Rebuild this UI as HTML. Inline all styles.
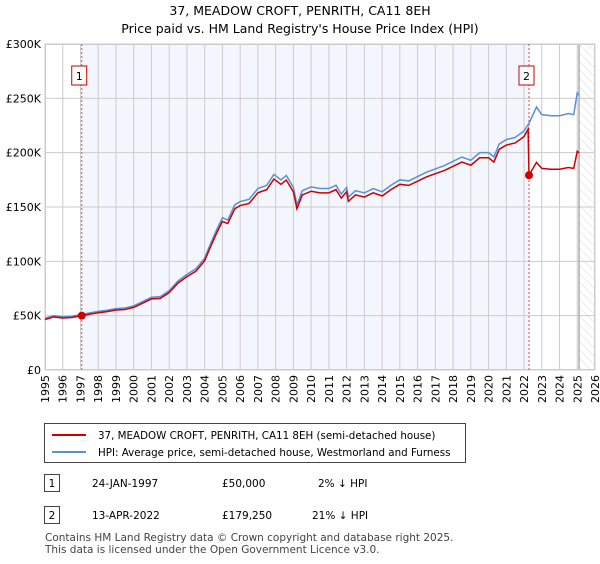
<!DOCTYPE html>
<html><head><meta charset="utf-8"><style>
body{margin:0;background:#fff;font-family:"DejaVu Sans","Liberation Sans",sans-serif;}
</style></head><body>
<svg width="600" height="560" xmlns="http://www.w3.org/2000/svg" style="font-family:'DejaVu Sans','Liberation Sans',sans-serif">
<defs><pattern id="hatch" width="6" height="6" patternUnits="userSpaceOnUse" patternTransform="rotate(-45)"><line x1="0" y1="0" x2="0" y2="6" stroke="#d8d8d8" stroke-width="1"/></pattern></defs>
<text x="300" y="15" text-anchor="middle" font-size="12.5">37, MEADOW CROFT, PENRITH, CA11 8EH</text>
<text x="300" y="33" text-anchor="middle" font-size="12.5">Price paid vs. HM Land Registry's House Price Index (HPI)</text>
<g id="plot"></g>
<g>
<rect x="44.5" y="423.5" width="421" height="39" fill="#fff" stroke="#444"/>
<line x1="52" y1="435" x2="86" y2="435" stroke="#cc0000" stroke-width="2"/>
<text x="98" y="439" font-size="10.3">37, MEADOW CROFT, PENRITH, CA11 8EH (semi-detached house)</text>
<line x1="52" y1="452" x2="86" y2="452" stroke="#5b8fd6" stroke-width="2"/>
<text x="98" y="456" font-size="10.3">HPI: Average price, semi-detached house, Westmorland and Furness</text>
</g>
<g font-size="10.5">
<rect x="44.5" y="474.5" width="15" height="17" fill="#fff" stroke="#444"/><text x="52" y="487" text-anchor="middle">1</text>
<text x="92" y="487">24-JAN-1997</text><text x="222" y="487">£50,000</text><text x="318" y="487">2% ↓ HPI</text>
<rect x="44.5" y="506.5" width="15" height="17" fill="#fff" stroke="#444"/><text x="52" y="519" text-anchor="middle">2</text>
<text x="92" y="519">13-APR-2022</text><text x="222" y="519">£179,250</text><text x="312" y="519">21% ↓ HPI</text>
</g>
<text x="45" y="541" font-size="10.5" fill="#444">Contains HM Land Registry data © Crown copyright and database right 2025.</text>
<text x="45" y="553" font-size="10.5" fill="#444">This data is licensed under the Open Government Licence v3.0.</text>
</svg>
<script>
const hpiYears=[1995,1995.5,1996,1996.5,1997,1997.5,1998,1998.5,1999,1999.5,2000,2000.5,2001,2001.5,2002,2002.5,2003,2003.5,2004,2004.3,2004.7,2005,2005.3,2005.7,2006,2006.5,2007,2007.5,2007.9,2008.3,2008.6,2009,2009.2,2009.5,2010,2010.5,2011,2011.4,2011.7,2012,2012.1,2012.5,2013,2013.5,2014,2014.5,2015,2015.5,2016,2016.5,2017,2017.5,2018,2018.5,2019,2019.5,2020,2020.3,2020.6,2021,2021.5,2022,2022.28,2022.7,2023,2023.5,2024,2024.5,2024.8,2025,2025.1];
const hpiValues=[47600,50000,49000,49500,51000,52500,54000,55000,56500,57000,59000,63000,67000,67500,73000,82000,88000,93000,103000,115000,130000,140000,138000,152000,155000,157000,167000,170000,180000,175000,179000,168000,152000,165000,168500,167000,167000,170000,162000,168000,159000,165000,163000,167000,164000,170000,175000,174000,178000,182000,185000,188000,192000,196000,193000,200000,200000,196000,208000,212000,214000,220000,227000,242000,235000,234000,234000,236000,235000,255000,253000];
const saleYears=[1997.07,2022.28];
const salePrices=[50000,179250];
const yTicks=[0,50000,100000,150000,200000,250000,300000];
const yTickLabels=["£0","£50K","£100K","£150K","£200K","£250K","£300K"];
const xTicks=[1995,1996,1997,1998,1999,2000,2001,2002,2003,2004,2005,2006,2007,2008,2009,2010,2011,2012,2013,2014,2015,2016,2017,2018,2019,2020,2021,2022,2023,2024,2025,2026];
const X0=45,X1=595,Y0=370,Y1=44;
const xs=y=>X0+(y-1995)/31*(X1-X0);
const ys=v=>Y0-v/300000*(Y0-Y1);
const NS="http://www.w3.org/2000/svg";
const g=document.getElementById('plot');
function mk(t,a){const e=document.createElementNS(NS,t);for(const k in a)e.setAttribute(k,a[k]);g.appendChild(e);return e;}
function hpiAt(t){for(let i=0;i<hpiYears.length-1;i++){if(t<=hpiYears[i+1]){const f=(t-hpiYears[i])/(hpiYears[i+1]-hpiYears[i]);return hpiValues[i]+f*(hpiValues[i+1]-hpiValues[i]);}}return hpiValues[hpiValues.length-1];}
let e=mk('rect',{x:xs(saleYears[0]),y:Y1,width:xs(saleYears[1])-xs(saleYears[0]),height:Y0-Y1,fill:'#f3f6fd'});

e=mk('rect',{x:xs(2025.1),y:Y1,width:X1-xs(2025.1),height:Y0-Y1,fill:'url(#hatch)'});

yTicks.forEach((v,i)=>{
 const l=mk('line',{x1:X0,x2:X1,y1:ys(v),y2:ys(v),stroke:'#ccc'});
 
 const t=mk('text',{x:X0-4,y:ys(v)+4,'text-anchor':'end','font-size':'11'});t.textContent=yTickLabels[i];
 
});
xTicks.forEach(yr=>{
 const l=mk('line',{x1:xs(yr),x2:xs(yr),y1:Y1,y2:Y0,stroke:'#ccc'});
 
 const t=mk('text',{x:0,y:0,'font-size':'11','text-anchor':'end',transform:`translate(${xs(yr)+4},${Y0+5}) rotate(-90)`});t.textContent=yr;
 
});
e=mk('line',{x1:xs(2025.1),x2:xs(2025.1),y1:Y1,y2:Y0,stroke:'#999','stroke-width':1.2});

e=mk('rect',{x:X0+0.5,y:Y1+0.5,width:X1-X0-1,height:Y0-Y1-1,fill:'none',stroke:'#ccc'});

saleYears.forEach((s,i)=>{
 const l=mk('line',{x1:xs(s),x2:xs(s),y1:Y1,y2:Y0,stroke:'#e44','stroke-dasharray':'2,2'});
 
 const r=mk('rect',{x:xs(s)-10,y:66,width:15,height:19,fill:'#fff',stroke:'#cc0000'});
 
 const t=mk('text',{x:xs(s)-2.5,y:80,'text-anchor':'middle','font-size':'11'});t.textContent=String(i+1);
 
});
e=mk('polyline',{points:hpiYears.map((y,i)=>xs(y)+','+ys(hpiValues[i])).join(' '),fill:'none',stroke:'#5b8fd6','stroke-width':1.5});

const pts=[];
hpiYears.forEach((y,i)=>{
 const k=y>=saleYears[1]?1:0;
 const r=salePrices[k]/hpiAt(saleYears[k]);
 pts.push([y,hpiValues[i]*r]);
});
const r0=salePrices[0]/hpiAt(saleYears[0]);
const ins=pts.findIndex(p=>p[0]>=saleYears[1]);
pts.splice(ins,0,[saleYears[1]-0.05,hpiAt(saleYears[1])*r0]);
e=mk('polyline',{points:pts.map(p=>xs(p[0])+','+ys(p[1])).join(' '),fill:'none',stroke:'#cc0000','stroke-width':1.5});

saleYears.forEach((s,i)=>{
 const c=mk('circle',{cx:xs(s),cy:ys(salePrices[i]),r:4,fill:'#cc0000'});
 
});
</script>
</body></html>
